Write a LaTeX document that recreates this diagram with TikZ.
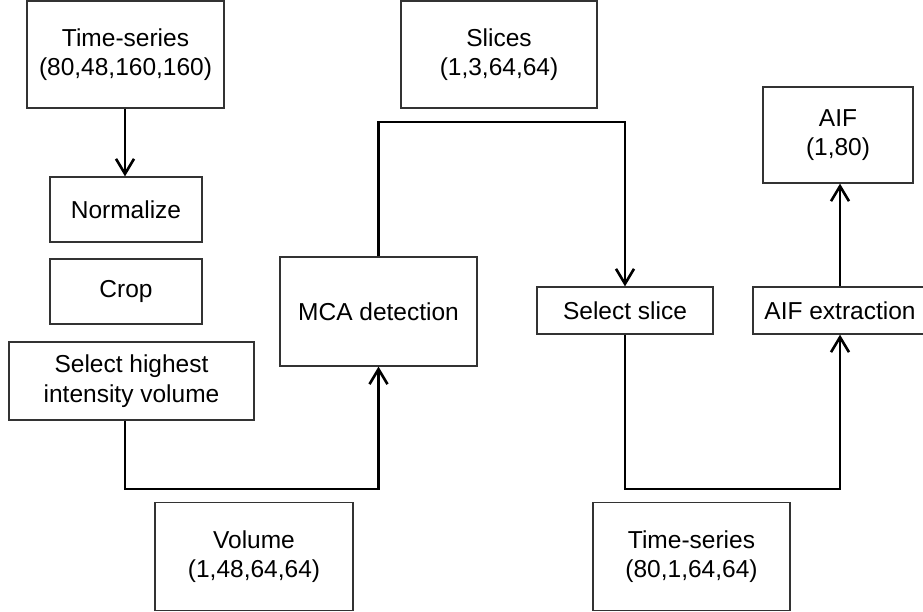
\documentclass[tikz,border=0pt]{standalone}
\usepackage{fontspec}
\setmainfont{Liberation Sans}
\usetikzlibrary{arrows.meta}
\begin{document}
\begin{tikzpicture}[x=1pt,y=-1pt,
  box/.style={draw=black!80, line width=1.3pt, fill=white, inner sep=0pt,
    align=center, font=\fontsize{24.5}{29.5}\selectfont},
  conn/.style={line width=2.8pt, black,
    -{Straight Barb[length=15pt,width=18pt,line width=2.6pt]}}]
\useasboundingbox (0,0) rectangle (923,612);

% input and preprocessing
\node[box, minimum width=197pt, minimum height=107pt] (ts1) at (125.5,54.5) {Time-series\\(80,48,160,160)};
\node[box, minimum width=152pt, minimum height=65pt] (norm) at (126,209.5) {Normalize};
\node[box, minimum width=152pt, minimum height=65pt] (crop) at (126,291.5) {Crop};
\node[box, minimum width=245pt, minimum height=78pt] (sel) at (131.5,381) {Select highest\\intensity volume};
\node[box, minimum width=198pt, minimum height=108pt] (vol) at (254,556.5) {Volume\\(1,48,64,64)};

% detection and slice selection
\node[box, minimum width=197pt, minimum height=109pt] (mca) at (378.5,311.5) {MCA detection};
\node[box, minimum width=196pt, minimum height=107pt] (slices) at (499,54.5) {Slices\\(1,3,64,64)};
\node[box, minimum width=176pt, minimum height=47pt] (selslice) at (625,310.5) {Select slice};
\node[box, minimum width=197pt, minimum height=108pt] (ts2) at (691.5,556.5) {Time-series\\(80,1,64,64)};

% AIF extraction
\node[box, minimum width=174pt, minimum height=47pt] (aifx) at (840,310.5) {AIF extraction};
\node[box, minimum width=150pt, minimum height=96pt] (aif) at (838,135) {AIF\\(1,80)};

% routing points
\coordinate (j1) at (500,122);
\coordinate (j2) at (125,489);
\coordinate (j3) at (730,489);

% connectors
\draw[conn] (ts1.south -| 125,0) -- (norm.north -| 125,0);
\draw[conn] (sel.south -| j2) -- (j2) -| (mca.south);
\draw[conn] (mca.north) |- (j1) -| (selslice.north);
\draw[conn] (selslice.south) |- (j3) -| (aifx.south);
\draw[conn] (aifx.north) -- (aifx.north |- aif.south);
\end{tikzpicture}
\end{document}
